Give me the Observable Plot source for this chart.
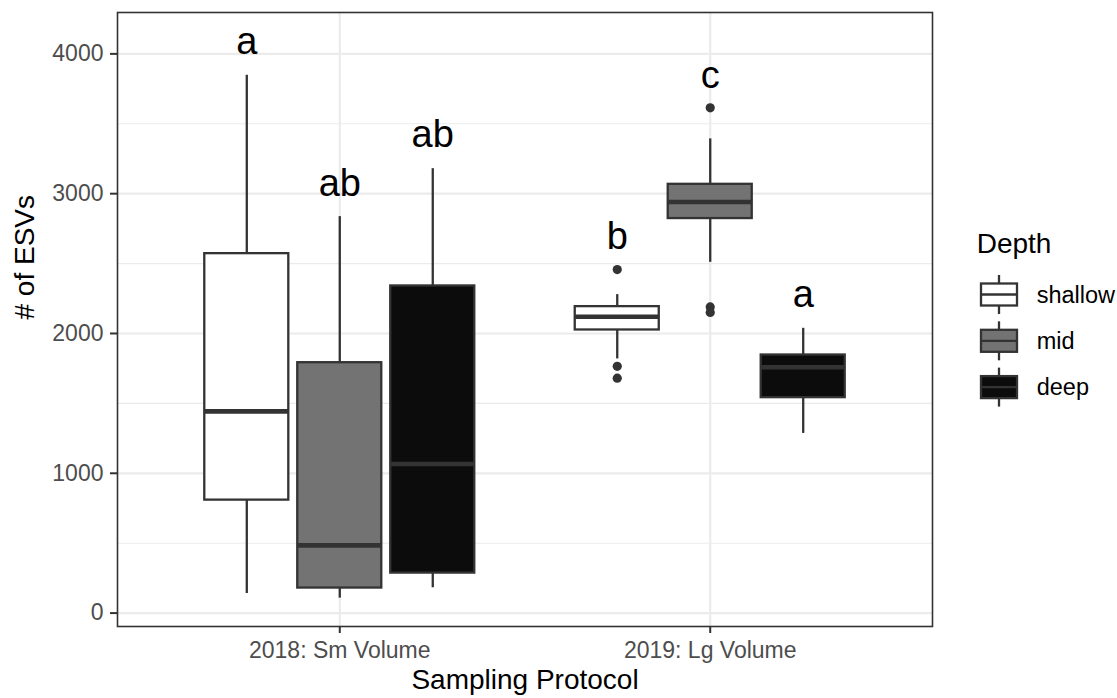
<!DOCTYPE html>
<html><head><meta charset="utf-8">
<script src="https://cdn.jsdelivr.net/npm/d3@7"></script>
<script src="https://cdn.jsdelivr.net/npm/@observablehq/plot@0.6"></script>
<style>
html,body{margin:0;padding:0;background:#fff;overflow:hidden;}
#wrap{position:relative;width:1117px;height:698px;font-family:"Liberation Sans",Arial,sans-serif;}
#legend{position:absolute;left:940px;top:220px;}
</style></head><body><div id="wrap"></div>
<script>
// ---- data ----
const protocols = ["2018: Sm Volume", "2019: Lg Volume"];
const depths = ["shallow", "mid", "deep"];
const depthFill = ["#ffffff", "#737373", "#0c0c0c"];
// boxes in order: 2018 shallow, mid, deep, 2019 shallow, mid, deep
const boxProtocol = [0, 0, 0, 1, 1, 1];
const boxDepth = [0, 1, 2, 0, 1, 2];
const whiskerLow = [140, 107, 181, 1818, 2509, 1285];
const q1 = [808, 179, 286, 2025, 2822, 1541];
const median = [1443, 484, 1066, 2120, 2941, 1758];
const q3 = [2571, 1791, 2340, 2192, 3067, 1846];
const whiskerHigh = [3847, 2836, 3179, 2278, 3392, 2037];
const letters = ["a", "ab", "ab", "b", "c", "a"];
const letterY = [4088, 3072, 3418, 2690, 3843, 2273];
const outlierBox = [3, 3, 3, 4, 4, 4];
const outlierValue = [2457, 1765, 1680, 3614, 2190, 2150];
const yTicks = [0, 1000, 2000, 3000, 4000];
const yMinor = [500, 1500, 2500, 3500];

// ---- layout helpers (dodge within a protocol) ----
const dodge = 0.251, hw = 0.1134;
const boxes = boxProtocol.map((p, i) => ({
  pos: p + 1 + (boxDepth[i] - 1) * dodge,
  depth: depths[boxDepth[i]],
  lo: whiskerLow[i], q1: q1[i], med: median[i], q3: q3[i], hi: whiskerHigh[i],
  letter: letters[i], ly: letterY[i]
}));
const outliers = outlierBox.map((b, i) => ({pos: boxes[b].pos, value: outlierValue[i]}));

const font = '"Liberation Sans", Arial, sans-serif';
const ink = "#333333";

const chart = Plot.plot({
  width: 1117, height: 698,
  marginLeft: 117, marginRight: 185, marginTop: 12, marginBottom: 72,
  x: {domain: [0.4, 2.6], axis: null},
  y: {domain: [-96, 4296], axis: null},
  color: {domain: depths, range: depthFill},
  style: {fontFamily: font, background: "white", overflow: "visible"},
  marks: [
    Plot.ruleY(yMinor, {stroke: "#ebebeb", strokeWidth: 1.1}),
    Plot.ruleY(yTicks, {stroke: "#ebebeb", strokeWidth: 2.2}),
    Plot.ruleX([1, 2], {stroke: "#ebebeb", strokeWidth: 2.2}),
    Plot.ruleX(boxes, {x: "pos", y1: "lo", y2: "q1", stroke: ink, strokeWidth: 2.3}),
    Plot.ruleX(boxes, {x: "pos", y1: "q3", y2: "hi", stroke: ink, strokeWidth: 2.3}),
    Plot.rect(boxes, {x1: d => d.pos - hw, x2: d => d.pos + hw, y1: "q1", y2: "q3", fill: "depth", stroke: ink, strokeWidth: 2.3}),
    Plot.ruleY(boxes, {x1: d => d.pos - hw, x2: d => d.pos + hw, y: "med", stroke: ink, strokeWidth: 4.6}),
    Plot.dot(outliers, {x: "pos", y: "value", r: 4.6, fill: ink, stroke: null}),
    Plot.text(boxes, {x: "pos", y: "ly", text: "letter", fontSize: 38, fill: "black"}),
    Plot.frame({stroke: ink, strokeWidth: 1.6}),
    Plot.axisY(yTicks, {tickSize: 7, tickPadding: 7, fontSize: 23, stroke: ink, fill: "#4d4d4d", label: null, strokeWidth: 2,
      tickFormat: d => String(d)}),
    Plot.axisX([1, 2], {tickSize: 7, tickPadding: 8, fontSize: 23, stroke: ink, fill: "#4d4d4d", label: null, strokeWidth: 2,
      tickFormat: d => protocols[d - 1]}),
    Plot.text(["Sampling Protocol"], {frameAnchor: "bottom", dy: 62, fontSize: 28, text: d => d, fill: "black"}),
    Plot.text(["# of ESVs"], {frameAnchor: "left", dx: -92, rotate: -90, fontSize: 28, text: d => d, fill: "black"})
  ]
});
const wrap = document.getElementById("wrap");
wrap.appendChild(chart);

// ---- legend ----
const lg = d3.select(wrap).append("svg").attr("id", "legend").attr("width", 177).attr("height", 200)
  .style("font-family", font);
lg.append("text").attr("x", 36.7).attr("y", 33.3).attr("font-size", 28).attr("fill", "black").text("Depth");
depths.forEach((dname, i) => {
  const cy = 74.5 + i * 46.3;
  const g = lg.append("g");
  g.append("line").attr("x1", 59).attr("x2", 59).attr("y1", cy - 19.5).attr("y2", cy + 19.5).attr("stroke", ink).attr("stroke-width", 2.3);
  g.append("rect").attr("x", 41).attr("y", cy - 11).attr("width", 36).attr("height", 22)
    .attr("fill", depthFill[i]).attr("stroke", ink).attr("stroke-width", 2.3);
  g.append("line").attr("x1", 41).attr("x2", 77).attr("y1", cy).attr("y2", cy).attr("stroke", ink).attr("stroke-width", 2.3);
  g.append("text").attr("x", 96.7).attr("y", cy).attr("dy", "0.35em").attr("font-size", 23.5).attr("fill", "black").text(dname);
});
</script></body></html>
